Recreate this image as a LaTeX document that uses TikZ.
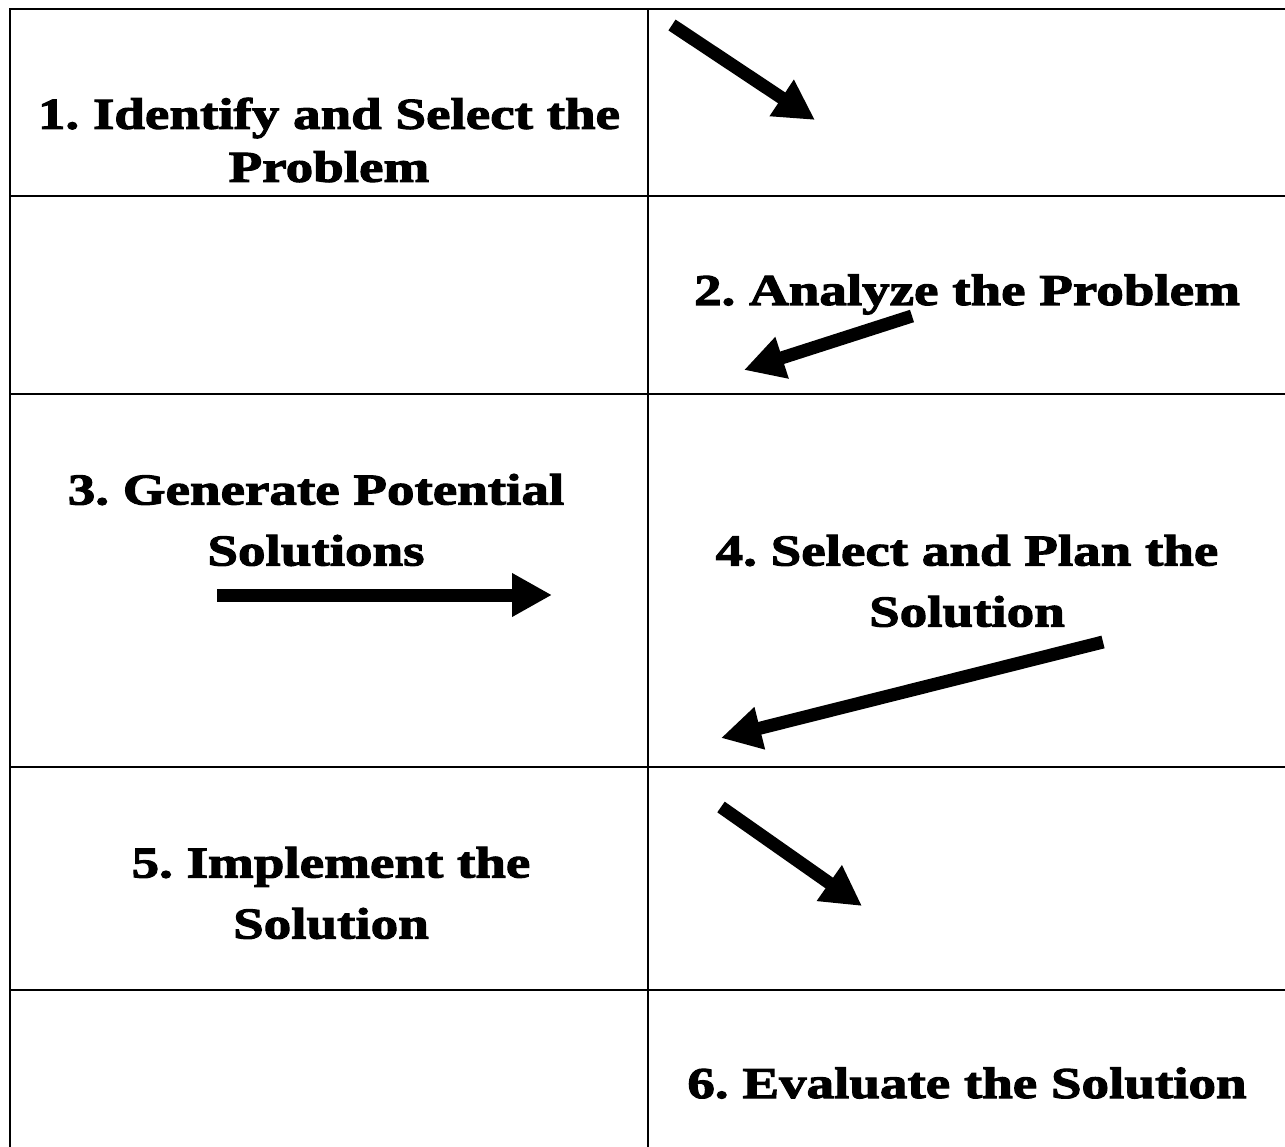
\documentclass[tikz,border=0pt]{standalone}
\usepackage{fontspec}
\newfontfamily\stepfont{Liberation Serif}[FakeStretch=1.25,FakeBold=2.5]
\usepackage{tikz}
\usetikzlibrary{arrows.meta}
\frenchspacing

\begin{document}
\begin{tikzpicture}[
  x=1pt, y=-1pt,
  cell/.style={inner sep=0pt, align=center,
               font=\stepfont\bfseries\fontsize{44}{61}\selectfont},
  arrow/.style={-{Triangle[length=40pt, width=41pt]}, line width=13pt},
  grid/.style={line width=2.5pt}
]
  \useasboundingbox (0,0) rectangle (1285,1147);

  % table lines
  \draw[grid] (10,1147) -- (10,9) -- (1285,9);
  \draw[grid] (648,9) -- (648,1147);
  \foreach \y in {196,394,767,990}
    \draw[grid] (10,\y) -- (1285,\y);

  % steps
  \node[cell, font=\stepfont\bfseries\fontsize{44}{53}\selectfont] (identify) at (329,140) {1. Identify and Select the\\Problem};
  \node[cell, anchor=base] (analyze) at (967,305) {2. Analyze the Problem};
  \node[cell] (generate) at (316,520) {3. Generate Potential\\Solutions};
  \node[cell] (plan) at (967,581) {4. Select and Plan the\\Solution};
  \node[cell] (implement) at (331,893) {5. Implement the\\Solution};
  \node[cell, anchor=base] (evaluate) at (967,1098) {6. Evaluate the Solution};

  % arrow ends
  \coordinate (a1s) at (672,25);   \coordinate (a1e) at (815,120);
  \coordinate (a2s) at (912,316);  \coordinate (a2e) at (744,370);
  \coordinate (a3s) at (217,595);  \coordinate (a3e) at (552,595);
  \coordinate (a4s) at (1103,642); \coordinate (a4e) at (721,738);
  \coordinate (a5s) at (721,807);  \coordinate (a5e) at (862,906);

  \draw[arrow] (a1s) -- (a1e);
  \draw[arrow] (a2s) -- (a2e);
  \draw[arrow] (a3s) -- (a3e);
  \draw[arrow] (a4s) -- (a4e);
  \draw[arrow] (a5s) -- (a5e);
\end{tikzpicture}
\end{document}
